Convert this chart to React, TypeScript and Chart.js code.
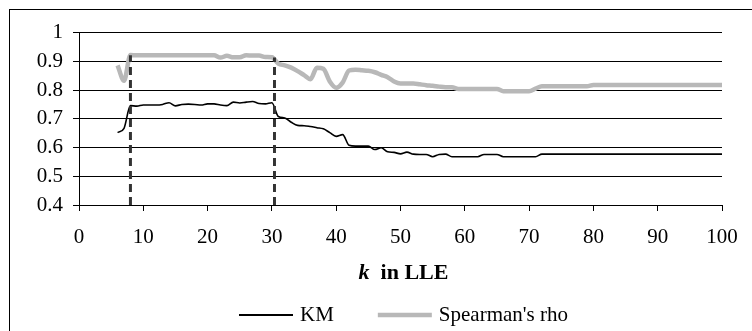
import { useEffect, useRef } from "react";
import { Chart, registerables } from "chart.js";

Chart.register(...registerables);

// Neighbourhood size k used in LLE
const kValues = [
  6, 7, 8, 9, 10, 11, 12, 13, 14, 15, 16, 17, 18, 19, 20, 21, 22, 23, 24, 25,
  26, 27, 28, 29, 30, 31, 32, 33, 34, 35, 36, 37, 38, 39, 40, 41, 42, 43, 44, 45,
  46, 47, 48, 49, 50, 51, 52, 53, 54, 55, 56, 57, 58, 59, 60, 61, 62, 63, 64, 65,
  66, 67, 68, 69, 70, 71, 72, 73, 74, 75, 76, 77, 78, 79, 80, 81, 82, 83, 84, 85,
  86, 87, 88, 89, 90, 91, 92, 93, 94, 95, 96, 97, 98, 99, 100,
];

// KM score per k
const kmValues = [
  0.652, 0.667, 0.746, 0.744, 0.748, 0.748, 0.748, 0.75, 0.756, 0.745,
  0.75, 0.751, 0.75, 0.748, 0.752, 0.752, 0.748, 0.746, 0.758, 0.755,
  0.758, 0.76, 0.753, 0.752, 0.756, 0.708, 0.703, 0.688, 0.677, 0.676,
  0.673, 0.669, 0.665, 0.652, 0.639, 0.645, 0.608, 0.605, 0.605, 0.605,
  0.593, 0.599, 0.585, 0.583, 0.578, 0.584, 0.577, 0.576, 0.576, 0.568,
  0.576, 0.577, 0.568, 0.568, 0.568, 0.568, 0.568, 0.576, 0.576, 0.576,
  0.568, 0.568, 0.568, 0.568, 0.568, 0.568, 0.577, 0.577, 0.577, 0.577,
  0.577, 0.577, 0.577, 0.577, 0.577, 0.577, 0.577, 0.577, 0.577, 0.577,
  0.577, 0.577, 0.577, 0.577, 0.577, 0.577, 0.577, 0.577, 0.577, 0.577,
  0.577, 0.577, 0.577, 0.577, 0.577,
];

// Spearman's rho per k
const rhoValues = [
  0.886, 0.832, 0.922, 0.921, 0.921, 0.921, 0.921, 0.921, 0.921, 0.921,
  0.921, 0.921, 0.921, 0.921, 0.921, 0.921, 0.913, 0.919, 0.914, 0.914,
  0.921, 0.92, 0.92, 0.915, 0.914, 0.892, 0.886, 0.878, 0.866, 0.852,
  0.838, 0.878, 0.874, 0.83, 0.808, 0.826, 0.868, 0.871, 0.869, 0.867,
  0.862, 0.853, 0.845, 0.83, 0.823, 0.823, 0.823, 0.82, 0.817, 0.815,
  0.812, 0.81, 0.81, 0.804, 0.804, 0.804, 0.804, 0.804, 0.804, 0.804,
  0.796, 0.796, 0.796, 0.796, 0.796, 0.805, 0.813, 0.813, 0.813, 0.813,
  0.813, 0.813, 0.813, 0.813, 0.818, 0.818, 0.818, 0.818, 0.818, 0.818,
  0.818, 0.818, 0.818, 0.818, 0.818, 0.818, 0.818, 0.818, 0.818, 0.818,
  0.818, 0.818, 0.818, 0.818, 0.818,
];

// Dashed markers bounding the stable range of k
const cutoffK = [8, 30.4];
const cutoffTop = [0.921, 0.913];
const cutoffBase = 0.4;

const seriesNames = ["KM", "Spearman's rho"];
const axisTitleParts = ["k", "  in LLE"];

const SERIF = "'Liberation Serif', 'Times New Roman', serif";
const KM_COLOR = "#000000";
const RHO_COLOR = "#b8b8b8";
const CUTOFF_COLOR = "#333333";

const legendItems = [
  { name: seriesNames[0], color: KM_COLOR, width: 2 },
  { name: seriesNames[1], color: RHO_COLOR, width: 4.5 },
];

// Draws the mixed-style axis title and the line legend under the plot
const captionPlugin = {
  id: "caption",
  afterDraw(chart: any) {
    const { ctx, chartArea, scales } = chart;
    const xScale = scales.x;
    const cx = (chartArea.left + chartArea.right) / 2;
    ctx.save();
    ctx.fillStyle = "#000";
    ctx.textBaseline = "middle";
    ctx.textAlign = "left";

    const fItalic = `italic bold 22px ${SERIF}`;
    const fBold = `bold 22px ${SERIF}`;
    ctx.font = fItalic;
    const w1 = ctx.measureText(axisTitleParts[0]).width;
    ctx.font = fBold;
    const w2 = ctx.measureText(axisTitleParts[1]).width;
    const tx = cx + 3 - (w1 + w2) / 2;
    const ty = xScale.top + 68;
    ctx.font = fItalic;
    ctx.fillText(axisTitleParts[0], tx, ty);
    ctx.font = fBold;
    ctx.fillText(axisTitleParts[1], tx + w1, ty);

    const lineLen = 54;
    const textGap = 7;
    const itemGap = 44;
    ctx.font = `21px ${SERIF}`;
    const widths = legendItems.map((it) => lineLen + textGap + ctx.measureText(it.name).width);
    const total = widths.reduce((a, b) => a + b, 0) + itemGap * (legendItems.length - 1);
    let lx = cx + 3 - total / 2;
    const ly = xScale.top + 110;
    legendItems.forEach((it, i) => {
      ctx.beginPath();
      ctx.strokeStyle = it.color;
      ctx.lineWidth = it.width;
      ctx.moveTo(lx, ly);
      ctx.lineTo(lx + lineLen, ly);
      ctx.stroke();
      ctx.fillText(it.name, lx + lineLen + textGap, ly);
      lx += widths[i] + itemGap;
    });
    ctx.restore();
  },
};

export default function App() {
  const canvasRef = useRef<HTMLCanvasElement | null>(null);

  useEffect(() => {
    const canvas = canvasRef.current;
    if (!canvas) return;

    const kmPoints = kValues.map((k, i) => ({ x: k, y: kmValues[i] }));
    const rhoPoints = kValues.map((k, i) => ({ x: k, y: rhoValues[i] }));
    const cutoffSets = cutoffK.map((k, i) => ({
      label: `cutoff-${i}`,
      data: [
        { x: k, y: cutoffBase },
        { x: k, y: cutoffTop[i] },
      ],
      borderColor: CUTOFF_COLOR,
      borderWidth: 3,
      borderDash: [8, 5],
      pointRadius: 0,
      fill: false,
      order: 0,
    }));

    const chart = new Chart(canvas, {
      type: "line",
      data: {
        datasets: [
          {
            label: seriesNames[1],
            data: rhoPoints,
            borderColor: RHO_COLOR,
            borderWidth: 4.5,
            pointRadius: 0,
            cubicInterpolationMode: "monotone",
            fill: false,
            order: 2,
          },
          {
            label: seriesNames[0],
            data: kmPoints,
            borderColor: KM_COLOR,
            borderWidth: 1.6,
            pointRadius: 0,
            cubicInterpolationMode: "monotone",
            fill: false,
            order: 1,
          },
          ...cutoffSets,
        ] as any,
      },
      options: {
        responsive: false,
        animation: false,
        layout: { padding: { left: 0, top: 19, right: 30, bottom: 0 } },
        plugins: {
          legend: { display: false },
          tooltip: { enabled: false },
          title: { display: false },
        },
        scales: {
          x: {
            type: "linear",
            min: 0,
            max: 100,
            ticks: {
              stepSize: 10,
              color: "#000",
              padding: 14,
              maxRotation: 0,
              font: { family: SERIF, size: 21 },
            },
            grid: {
              drawOnChartArea: false,
              drawTicks: true,
              tickLength: 6,
              color: "#000",
              lineWidth: 1,
            },
            border: { display: true, color: "#000", width: 1 },
            afterFit: (scale: any) => {
              scale.height = 126;
            },
          },
          y: {
            type: "linear",
            min: 0.4,
            max: 1,
            ticks: {
              stepSize: 0.1,
              color: "#000",
              padding: 10,
              font: { family: SERIF, size: 21 },
              callback: (v: any) => String(Math.round(Number(v) * 10) / 10),
            },
            grid: {
              drawOnChartArea: true,
              drawTicks: true,
              tickLength: 6,
              color: "#000",
              lineWidth: 1,
            },
            border: { display: true, color: "#000", width: 1 },
            afterFit: (scale: any) => {
              scale.width = 69;
            },
          },
        },
      },
      plugins: [captionPlugin],
    });

    return () => chart.destroy();
  }, []);

  return (
    <div
      style={{
        position: "absolute",
        left: 9,
        top: 9,
        width: 743,
        height: 322,
        borderLeft: "1px solid #000",
        borderTop: "1px solid #000",
        background: "#fff",
      }}
    >
      <canvas
        ref={canvasRef}
        width={742}
        height={321}
        style={{ display: "block", width: 742, height: 321 }}
      />
    </div>
  );
}
